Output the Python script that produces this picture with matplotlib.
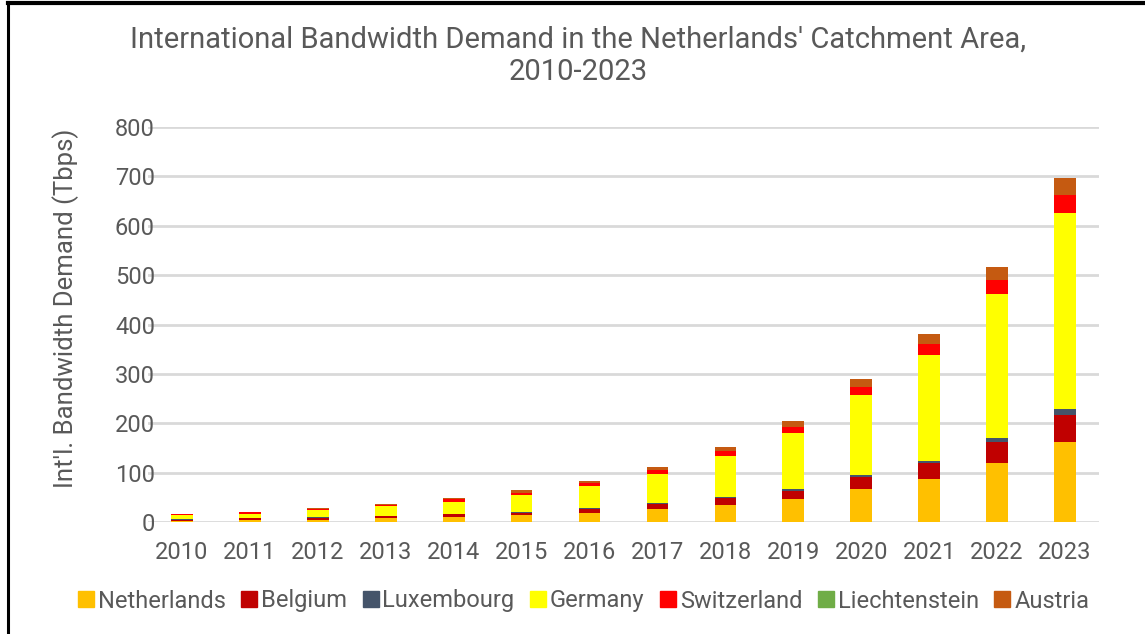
import numpy as np
import matplotlib.pyplot as plt
from matplotlib.lines import Line2D

plt.rcParams['font.family'] = ['Roboto', 'DejaVu Sans']

years = ['2010', '2011', '2012', '2013', '2014', '2015', '2016',
         '2017', '2018', '2019', '2020', '2021', '2022', '2023']

# Tbps per land (gestablet)
netherlands = [3, 3.5, 5, 8.4, 11, 15, 18.8, 26.3, 35, 46.6, 66, 87, 119.4, 162.6]
belgium = [2, 4.2, 4, 3.4, 4.8, 4, 8.2, 10.1, 14.2, 16.8, 25.7, 31.8, 43.2, 54.4]
luxembourg = [0.3, 0.3, 0.5, 0.5, 0.7, 2, 1, 1.4, 2, 2.6, 4, 5.2, 7.4, 11]
germany = [8.5, 9, 15.1, 19.7, 25, 33, 45, 60, 81.8, 114, 160.8, 214, 291, 397]
switzerland = [2.2, 2.5, 2.4, 3, 5.5, 5, 5, 6.8, 10, 12, 16.5, 23, 29.5, 38]
liechtenstein = [0.01, 0.01, 0.01, 0.01, 0.01, 0.01, 0.01, 0.01, 0.01, 0.01, 0.01, 0.01, 0.01, 0.01]
austria = [1.2, 1.5, 2, 2.4, 2.6, 4.8, 5, 6.4, 8, 13, 16.5, 19.6, 25.1, 33]

series = [
    ('Netherlands', netherlands, '#FFC000'),
    ('Belgium', belgium, '#C00000'),
    ('Luxembourg', luxembourg, '#44546A'),
    ('Germany', germany, '#FFFF00'),
    ('Switzerland', switzerland, '#FF0000'),
    ('Liechtenstein', liechtenstein, '#70AD47'),
    ('Austria', austria, '#C55A11'),
]

grey = '#595959'

fig = plt.figure(figsize=(11.45, 6.34), dpi=100)
ax = fig.add_axes([148 / 1145, 1 - 522 / 634, (1099 - 148) / 1145, (522 - 127) / 634])

x = np.arange(len(years))
bottom = np.zeros(len(years))
for navn, verdier, farge in series:
    v = np.array(verdier)
    ax.bar(x, v, bottom=bottom, width=0.32, color=farge, label=navn, zorder=3)
    bottom += v

ax.set_ylim(0, 800)
ax.set_xlim(-0.5, len(years) - 0.5)
ax.set_yticks(range(0, 801, 100))
ax.set_xticks(x)
ax.set_xticklabels(years)
ax.yaxis.grid(True, color='#D9D9D9', linewidth=2, zorder=0)
ax.tick_params(length=0, labelsize=17, colors=grey)
ax.tick_params(axis='y', pad=-5)
ax.tick_params(axis='x', pad=14)
for s in ax.spines.values():
    s.set_visible(False)

ax.set_ylabel("Int'l. Bandwidth Demand (Tbps)", fontsize=18.5, color=grey)
ax.yaxis.set_label_coords(-69 / 951, 0.54)

fig.text(0.505, 1 - 56 / 634, "International Bandwidth Demand in the Netherlands' Catchment Area,\n2010-2023",
         ha='center', va='center', fontsize=21, color=grey, linespacing=1.22)

handles = [Line2D([], [], marker='s', linestyle='', markersize=12, color=f) for _, _, f in series]
fig.legend(handles, [n for n, _, _ in series], loc='center', bbox_to_anchor=(0.508, 1 - 601 / 634),
           ncol=7, frameon=False, fontsize=17, labelcolor=grey, handletextpad=0.0,
           columnspacing=0.5, handlelength=1.0)

# ramme
fig.add_artist(Line2D([7.5 / 1145, 7.5 / 1145], [0, 1 - 2 / 634], color='black', linewidth=2.2,
                      transform=fig.transFigure))
fig.add_artist(Line2D([7.5 / 1145, 1], [1 - 2.5 / 634, 1 - 2.5 / 634], color='black', linewidth=3,
                      transform=fig.transFigure))

fig.savefig('out.png', dpi=100)
